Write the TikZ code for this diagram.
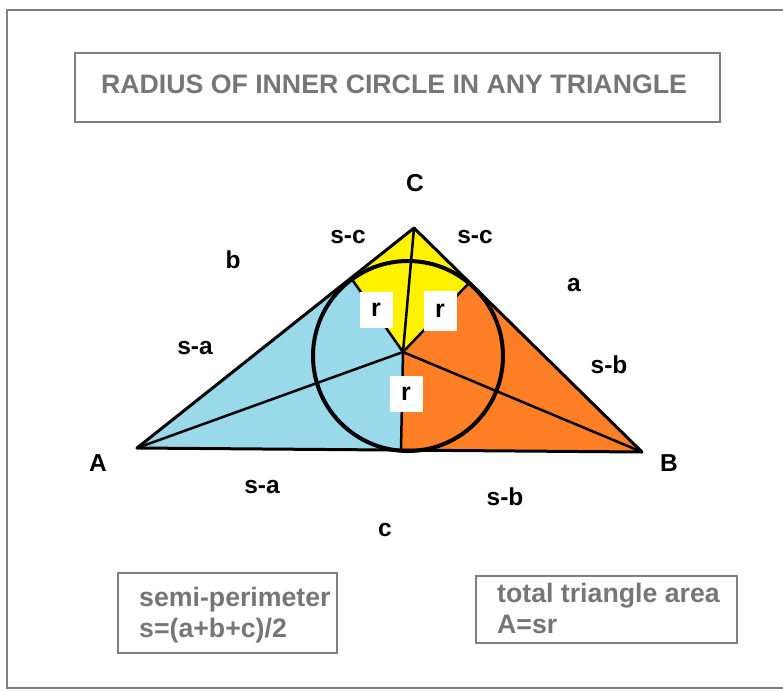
\documentclass[tikz,border=0pt]{standalone}
\usepackage{fontspec}
\setmainfont{Liberation Sans}
\definecolor{frameg}{RGB}{128,128,128}
\definecolor{textg}{RGB}{118,118,118}
\definecolor{lblue}{RGB}{153,217,234}
\definecolor{lorange}{RGB}{255,127,39}
\definecolor{lyellow}{RGB}{255,242,0}
\tikzset{
  framebox/.style={draw=frameg, line width=2.5pt},
  lbl/.style={inner sep=0pt, font=\fontsize{24.5}{24.5}\selectfont\bfseries, text=black},
  gtxt/.style={inner sep=0pt, font=\fontsize{26.7}{26.7}\selectfont\bfseries, text=textg},
  rbox/.style={fill=white, inner sep=0pt, minimum width=33pt, minimum height=36pt, font=\fontsize{25}{25}\selectfont\bfseries},
  edge/.style={line width=3pt, line join=round},
  spoke/.style={line width=2.5pt},
  incirc/.style={line width=4pt}
}
\begin{document}
\begin{tikzpicture}[x=1pt,y=-1pt]
\clip (0,0) rectangle (783,690);
\fill[white] (0,0) rectangle (783,690);
% outer frame
\draw[framebox] (7,10) rectangle (800,688);
% title
\draw[framebox] (75,53) rectangle (720,122);
\node[gtxt, anchor=base] (title) at (394,93) {RADIUS OF INNER CIRCLE IN ANY TRIANGLE};
% geometry
\coordinate (A) at (137,448);
\coordinate (B) at (642,452);
\coordinate (C) at (414,228);
\coordinate (I) at (403,352);
\coordinate (Tca) at (351,278);
\coordinate (Tcb) at (470,282);
\coordinate (Tab) at (401,450);
\coordinate (O) at (408,356);
% fills
\fill[lblue] (A) -- (Tca) -- (I) -- (Tab) -- cycle;
\fill[lorange] (B) -- (Tcb) -- (I) -- (Tab) -- cycle;
\fill[lyellow] (C) -- (Tca) -- (I) -- (Tcb) -- cycle;
% lines
\draw[spoke] (I) -- (Tca);
\draw[spoke] (I) -- (Tcb);
\draw[spoke] (I) -- (Tab);
\draw[spoke] (I) -- (A);
\draw[spoke] (I) -- (B);
\draw[spoke] (I) -- (C);
\draw[edge] (A) -- (B) -- (C) -- cycle;
\draw[incirc] (O) circle (95);
% r boxes
\node[rbox] (r1) at (376,310) {r};
\node[rbox, minimum height=40pt] (r2) at (440,311) {r};
\node[rbox] (r3) at (406,394) {r};
% labels
\node[lbl] (lC) at (415,183) {C};
\node[lbl] (lsc1) at (348,237) {s-c};
\node[lbl] (lsc2) at (475,237) {s-c};
\node[lbl] (lb) at (233,260) {b};
\node[lbl] (la) at (574,285) {a};
\node[lbl] (lsa1) at (195,348) {s-a};
\node[lbl] (lsb1) at (609,365) {s-b};
\node[lbl] (lA) at (98,463) {A};
\node[lbl] (lB) at (669,463) {B};
\node[lbl] (lsa2) at (262,487) {s-a};
\node[lbl] (lsb2) at (505,497) {s-b};
\node[lbl] (lc) at (385,530) {c};
% bottom boxes
\draw[framebox] (118,573) rectangle (337,653);
\node[gtxt, anchor=base west] (sp1) at (139,606) {semi-perimeter};
\node[gtxt, anchor=base west] (sp2) at (139,637) {s=(a+b+c)/2};
\draw[framebox] (476,576) rectangle (737,643);
\node[gtxt, anchor=base west] (ta1) at (497,602) {total triangle area};
\node[gtxt, anchor=base west] (ta2) at (497,633) {A=sr};
\end{tikzpicture}
\end{document}
